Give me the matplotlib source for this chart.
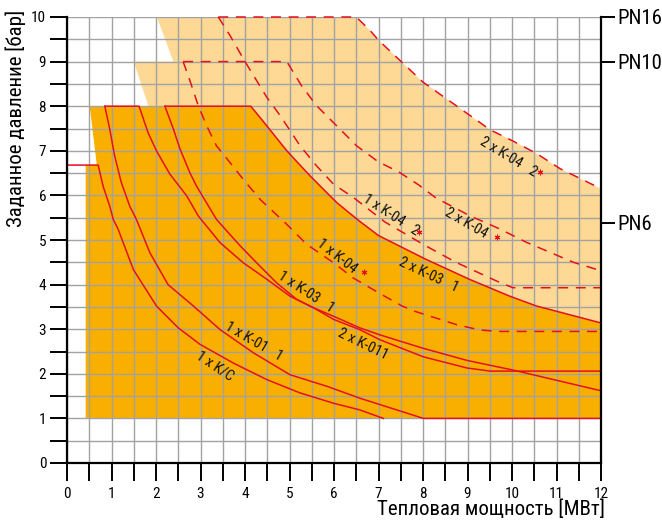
import numpy as np
import matplotlib
matplotlib.use("Agg")
import matplotlib.pyplot as plt

plt.rcParams['font.family'] = ['Roboto Condensed', 'PT Sans Narrow', 'DejaVu Sans']

# ---------------- data ----------------
# solid curves
kc_x = [0.0, 0.70, 0.81, 0.96, 1.04, 1.15, 1.49, 2.01, 2.50, 2.99, 3.74, 4.49, 5.24, 5.99, 6.58, 7.11]
kc_y = [6.68, 6.68, 6.21, 5.76, 5.46, 5.24, 4.34, 3.52, 3.03, 2.66, 2.24, 1.87, 1.57, 1.34, 1.19, 1.00]

k01_x = [0.85, 0.96, 1.07, 1.22, 1.41, 1.56, 1.86, 2.27, 2.84, 3.44, 4.19, 5.01, 5.84, 6.59, 8.01, 12.0]
k01_y = [8.00, 7.49, 6.89, 6.29, 5.76, 5.46, 4.72, 4.00, 3.52, 2.99, 2.47, 1.98, 1.72, 1.45, 1.00, 1.00]

k03_x = [0.85, 1.62, 1.82, 2.01, 2.31, 2.69, 2.95, 3.44, 3.96, 4.49, 5.01, 5.54, 5.99, 6.58, 7.04, 8.01, 8.99, 10.04, 12.0]
k03_y = [8.00, 8.00, 7.41, 7.00, 6.48, 5.99, 5.54, 4.94, 4.49, 4.12, 3.74, 3.48, 3.29, 3.03, 2.87, 2.57, 2.30, 2.08, 1.62]

k011_x = [2.20, 2.39, 2.54, 2.76, 2.91, 3.36, 3.89, 4.26, 4.71, 5.16, 5.54, 5.99, 6.58, 7.04, 8.01, 8.99, 9.51, 12.0]
k011_y = [8.00, 7.49, 7.04, 6.51, 6.21, 5.46, 4.87, 4.49, 4.04, 3.67, 3.48, 3.22, 2.99, 2.76, 2.38, 2.13, 2.06, 2.06]

k03x2_x = [2.20, 4.13, 4.49, 4.94, 5.46, 6.06, 6.55, 7.00, 8.06, 9.04, 9.95, 10.55, 12.0]
k03x2_y = [8.00, 8.00, 7.56, 7.00, 6.44, 5.84, 5.44, 5.10, 4.57, 4.12, 3.74, 3.52, 3.14]

# dashed curves
k04_x = [2.61, 2.76, 2.95, 3.14, 3.36, 3.66, 3.96, 4.34, 4.94, 5.39, 5.99, 6.43, 7.03, 7.53, 7.82, 8.76, 9.29, 9.74, 12.0]
k04_y = [9.00, 8.58, 8.01, 7.56, 7.11, 6.74, 6.36, 5.91, 5.35, 4.90, 4.49, 4.15, 3.80, 3.52, 3.40, 3.10, 2.98, 2.95, 2.95]

k04b_x = [2.61, 4.94, 5.27, 5.61, 6.06, 6.51, 7.00, 7.45, 7.91, 8.28, 9.04, 9.72, 10.32, 11.38, 12.0]
k04b_y = [9.00, 9.00, 8.46, 8.01, 7.56, 7.11, 6.75, 6.53, 6.23, 5.95, 5.55, 5.25, 4.95, 4.50, 4.31]

k04x2_x = [3.40, 3.66, 4.00, 4.49, 4.79, 5.24, 5.61, 5.99, 6.44, 7.15, 8.06, 8.74, 9.72, 10.02, 12.0]
k04x2_y = [10.0, 9.59, 9.00, 8.20, 7.79, 7.11, 6.66, 6.25, 5.95, 5.40, 4.87, 4.50, 4.05, 3.93, 3.93]

k04x2b_x = [3.40, 6.50, 6.81, 7.00, 8.00, 9.51, 10.02, 10.55, 11.08, 12.0, 12.0]
k04x2b_y = [10.0, 10.0, 9.70, 9.48, 8.54, 7.47, 7.22, 6.94, 6.60, 6.15, 3.93]

# left edges of the shaded areas (stepped)
light_edge_x = [1.83, 1.50, 2.39, 2.02]
light_edge_y = [8.00, 9.00, 9.00, 10.0]
dark_edge_x = [0.42, 0.42, 0.67, 0.51]
dark_edge_y = [1.00, 6.68, 6.68, 8.00]

labels = ["1 x K/C", "1 x K-01   1", "1 x K-03   1", "2 x K-011", "1 x K-04",
          "2 x K-03   1", "1 x K-04   2", "2 x K-04", "2 x K-04   2"]
label_x = [3.33, 4.20, 5.38, 6.64, 6.06, 8.12, 7.28, 8.98, 9.92]
label_y = [2.18, 2.72, 3.84, 2.67, 4.63, 4.22, 5.55, 5.37, 6.87]
label_rot = [-34, -30, -33, -26, -38, -25, -33, -30, -31]
star_x = [6.67, 7.92, 9.66, 10.63]
star_y = [4.28, 5.19, 5.07, 6.53]

pn_labels = ["PN16", "PN10", "PN6"]
pn_vals = [10.0, 9.0, 5.39]

# ---------------- styling ----------------
DARK = '#F8AF00'
LIGHT = '#FDD995'
RED = '#E5101C'
GRID = '#A2A2A2'

fig = plt.figure(figsize=(6.62, 5.28), dpi=100)
ax = fig.add_axes([67 / 662, 65 / 528, 534 / 662, 446 / 528])
ax.set_xlim(0, 12)
ax.set_ylim(0, 10)

# light region: stepped edge + upper dashed boundary + x=12 + lower solid boundary reversed
c2x, c2y = np.array(k03x2_x), np.array(k03x2_y)
lx = np.concatenate([[light_edge_x[-1]], k04x2b_x[1:-1], [12.0], c2x[::-1][:-1], light_edge_x])
ly = np.concatenate([[light_edge_y[-1]], k04x2b_y[1:-1], [c2y[-1]], c2y[::-1][:-1], light_edge_y])
ax.fill(lx, ly, color=LIGHT, lw=0, zorder=1)

dx = np.concatenate([dark_edge_x, c2x[1:], [12.0]])
dy = np.concatenate([dark_edge_y, c2y[1:], [1.0]])
ax.fill(dx, dy, color=DARK, lw=0, zorder=1.1)

solid_kw = dict(color=RED, lw=1.1, zorder=3, clip_on=False)
dash_kw = dict(color=RED, lw=1.1, zorder=3, clip_on=False, linestyle=(0, (6.5, 5)))
for xs, ys in [(kc_x, kc_y), (k01_x, k01_y), (k03_x, k03_y), (k011_x, k011_y), (k03x2_x, k03x2_y)]:
    ax.plot(xs, ys, **solid_kw)
ax.plot([12, 12], [1.0, k03x2_y[-1]], **solid_kw)
for xs, ys in [(k04_x, k04_y), (k04b_x, k04b_y), (k04x2_x, k04x2_y), (k04x2b_x, k04x2b_y)]:
    ax.plot(xs, ys, **dash_kw)

ax.plot(star_x, star_y, linestyle='none', marker=(6, 2, 0), ms=4, mew=0.8, color=RED, zorder=4)

for t, x, y, r in zip(labels, label_x, label_y, label_rot):
    ax.text(x, y, t, rotation=r, ha='center', va='center', fontsize=10.5,
            rotation_mode='anchor', zorder=5, color='#111111')

# grid and ticks
ax.set_xticks(np.arange(0, 13, 1))
ax.set_xticks(np.arange(0, 12.01, 0.5), minor=True)
ax.set_yticks(np.arange(0, 11, 1))
ax.set_yticks(np.arange(0, 10.01, 0.5), minor=True)
ax.grid(which='both', color=GRID, lw=1.0)
ax.set_axisbelow(False)
for gl in ax.get_xgridlines() + ax.get_ygridlines():
    gl.set_zorder(2)
ax.tick_params(which='both', direction='out', length=12, width=1.4, color='black',
               labelsize=11, pad=3)
ax.tick_params(axis='x', which='both', length=13, pad=4)

ax.spines['top'].set_visible(False)
for s in ['left', 'bottom', 'right']:
    ax.spines[s].set_linewidth(1.6)
    ax.spines[s].set_zorder(6)

ax2 = ax.twinx()
ax2.set_ylim(0, 10)
ax2.set_yticks(pn_vals)
ax2.set_yticklabels(pn_labels)
ax2.tick_params(axis='y', direction='out', length=10, width=1.4, labelsize=15, pad=2)
for s in ['top', 'left', 'bottom', 'right']:
    ax2.spines[s].set_visible(False)

fig.text(16 / 662, 1 - 118 / 528, "Заданное давление [бар]", rotation=90,
         ha='center', va='center', fontsize=15)
fig.text(605 / 662, 1 - 509 / 528, "Тепловая мощность [МВт]", ha='right',
         va='center', fontsize=15)

fig.savefig('out.png', dpi=100)
